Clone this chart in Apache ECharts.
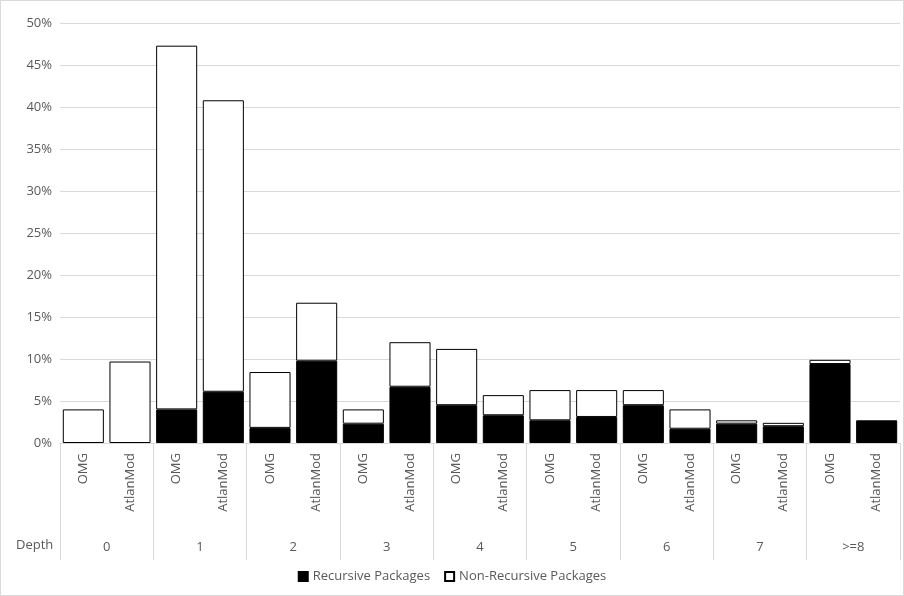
<!DOCTYPE html>
<html><head><meta charset="utf-8">
<script src="https://cdn.jsdelivr.net/npm/echarts@6/dist/echarts.min.js"></script>
<style>html,body{margin:0;padding:0;background:#fff}#c{width:904px;height:596px}</style>
</head><body><div id="c"></div>
<script>
var depths = ['0', '1', '2', '3', '4', '5', '6', '7', '>=8'];
var tools = ['OMG', 'AtlanMod'];
// totals and recursive share (percent), OMG then AtlanMod per depth
var totals = [4.0, 9.7, 47.3, 40.8, 8.45, 16.7, 4.0, 12.0, 11.2, 5.7, 6.3, 6.3, 6.3, 4.0, 2.7, 2.4, 9.9, 2.7];
var recursive = [0, 0, 4.0, 6.1, 1.8, 9.8, 2.3, 6.7, 4.5, 3.3, 2.7, 3.1, 4.5, 1.7, 2.3, 2.0, 9.4, 2.7];

var cats = [];
depths.forEach(function(){ cats.push(tools[0], tools[1]); });
var nonRecursive = totals.map(function(t, i){ return +(t - recursive[i]).toFixed(2); });
// zero values would still draw a border line, so leave them empty
function blank(v){ return v === 0 ? '-' : v; }

var font = 'Open Sans', txt = '#595959', grey = '#d9d9d9';
var chart = echarts.init(document.getElementById('c'));
chart.setOption({
  animation: false,
  grid: { left: 60, right: 4, top: 23, bottom: 153 },
  graphic: [
    { type: 'rect', shape: { x: 0.5, y: 0.5, width: 903, height: 595 }, style: { fill: 'none', stroke: grey } },
    { type: 'text', left: 16, top: 539, style: { text: 'Depth', font: '13px "Open Sans"', fill: txt } }
  ],
  legend: {
    bottom: 8, itemWidth: 9, itemHeight: 9, itemGap: 14,
    textStyle: { fontFamily: font, fontSize: 13, color: txt },
    data: [
      { name: 'Recursive Packages', icon: 'rect' },
      { name: 'Non-Recursive Packages', icon: 'rect' }
    ]
  },
  xAxis: [{
    type: 'category', data: cats,
    axisLine: { lineStyle: { color: grey } },
    axisTick: { show: false },
    axisLabel: { rotate: 90, fontFamily: font, fontSize: 13, color: txt, margin: 10 }
  }, {
    type: 'category', data: depths, position: 'bottom',
    axisLine: { lineStyle: { color: grey } },
    axisTick: { show: true, length: 117, lineStyle: { color: grey } },
    axisLabel: { fontFamily: font, fontSize: 13, color: txt, margin: 98 }
  }],
  yAxis: {
    type: 'value', min: 0, max: 50, interval: 5,
    axisLine: { show: false }, axisTick: { show: false },
    splitLine: { lineStyle: { color: grey } },
    axisLabel: { formatter: '{value}%', fontFamily: font, fontSize: 13, color: txt }
  },
  series: [{
    name: 'Recursive Packages', type: 'bar', stack: 's', data: recursive.map(blank),
    barCategoryGap: '12%',
    itemStyle: { color: '#000', borderColor: '#000', borderWidth: 1 }
  }, {
    name: 'Non-Recursive Packages', type: 'bar', stack: 's', data: nonRecursive.map(blank),
    itemStyle: { color: '#fff', borderColor: '#000', borderWidth: 1 }
  }]
});
</script></body></html>
